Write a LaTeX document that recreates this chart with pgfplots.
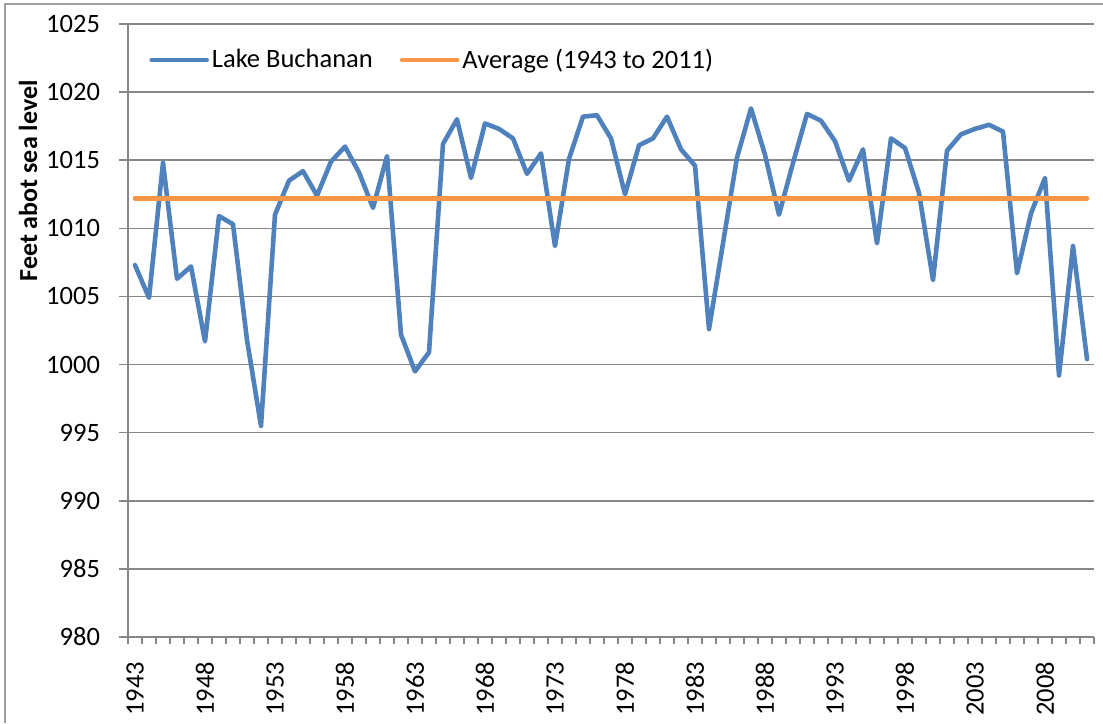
\documentclass[border=0pt]{standalone}
\usepackage{pgfplots}
\pgfplotsset{compat=1.18}
\usepackage{pgfplotstable}
\usepackage{fontspec}
\setmainfont{Carlito}
\definecolor{excelblue}{HTML}{4F81BD}
\definecolor{excelorange}{HTML}{F79646}
\definecolor{gridgray}{HTML}{878787}
\pgfplotstableread{
year level
1943 1007.3
1944 1004.9
1945 1014.8
1946 1006.3
1947 1007.2
1948 1001.7
1949 1010.9
1950 1010.3
1951 1001.8
1952 995.5
1953 1011.0
1954 1013.5
1955 1014.2
1956 1012.4
1957 1014.9
1958 1016.0
1959 1014.1
1960 1011.5
1961 1015.3
1962 1002.2
1963 999.5
1964 1000.9
1965 1016.2
1966 1018.0
1967 1013.7
1968 1017.7
1969 1017.3
1970 1016.6
1971 1014.0
1972 1015.5
1973 1008.7
1974 1015.1
1975 1018.2
1976 1018.3
1977 1016.6
1978 1012.5
1979 1016.1
1980 1016.6
1981 1018.2
1982 1015.8
1983 1014.6
1984 1002.6
1985 1008.9
1986 1015.2
1987 1018.8
1988 1015.4
1989 1011.0
1990 1014.8
1991 1018.4
1992 1017.9
1993 1016.4
1994 1013.5
1995 1015.8
1996 1008.9
1997 1016.6
1998 1015.9
1999 1012.6
2000 1006.2
2001 1015.7
2002 1016.9
2003 1017.3
2004 1017.6
2005 1017.1
2006 1006.7
2007 1011.1
2008 1013.7
2009 999.2
2010 1008.7
2011 1000.4
}\lakedata
\pgfplotstableread{
year level
1943 1012.2
2011 1012.2
}\avgdata
\begin{document}
\begin{tikzpicture}
\useasboundingbox (0,0) rectangle (551.5pt,361.5pt);
\draw[gridgray!80, line width=0.75pt] (2.5pt,0) -- (2.5pt,359.5pt) -- (551.5pt,359.5pt);
\begin{axis}[
  at={(64pt,43pt)}, anchor=south west,
  scale only axis, width=483pt, height=306.5pt,
  xmin=1942.5, xmax=2011.5, ymin=980, ymax=1025,
  ytick={980,985,...,1025},
  xtick={1943,1948,...,2008},
  xticklabels={1943,1948,1953,1958,1963,1968,1973,1978,1983,1988,1993,1998,2003,2008},
  minor xtick={1942.5,1943.5,...,2011.5},
  axis x line*=bottom, axis y line*=left,
  axis line style={gridgray, line width=0.75pt, -},
  tick align=outside,
  major tick length=4.5pt,
  minor tick length=3.5pt,
  x tick style={draw=none},
  minor x tick style={draw=gridgray, line width=0.75pt},
  y tick style={gridgray, line width=0.75pt},
  ymajorgrids, grid style={gridgray, line width=0.75pt},
  /pgf/number format/assume math mode=true,
  /pgf/number format/1000 sep={},
  yticklabel style={font=\fontsize{13.25}{15}\selectfont},
  yticklabel shift=6pt,
  xticklabel style={font=\fontsize{13.25}{15}\selectfont, rotate=90, anchor=east},
  xticklabel shift=4.5pt,
  ylabel={Feet abot sea level},
  ylabel style={font=\fontsize{13}{15}\selectfont\bfseries, at={(rel axis cs:0,0.744)}, anchor=center, yshift=50pt},
  legend columns=2,
  legend style={draw=none, fill=none, at={(rel axis cs:0.0217,0.941)}, anchor=west, inner sep=0pt,
    font=\fontsize{13.25}{15}\selectfont, nodes={inner xsep=1.5pt},
    /tikz/every even column/.append style={column sep=12pt}},
  legend image code/.code={\draw[#1] (0pt,0pt) -- (27.5pt,0pt);},
]
\addplot[excelblue, line width=2.3pt, line join=round, line cap=round] table[x=year, y=level] {\lakedata};
\addlegendentry{Lake Buchanan}
\addplot[excelorange, line width=2.3pt, line cap=round] table[x=year, y=level] {\avgdata};
\addlegendentry{Average (1943 to 2011)}
\end{axis}
\end{tikzpicture}
\end{document}
